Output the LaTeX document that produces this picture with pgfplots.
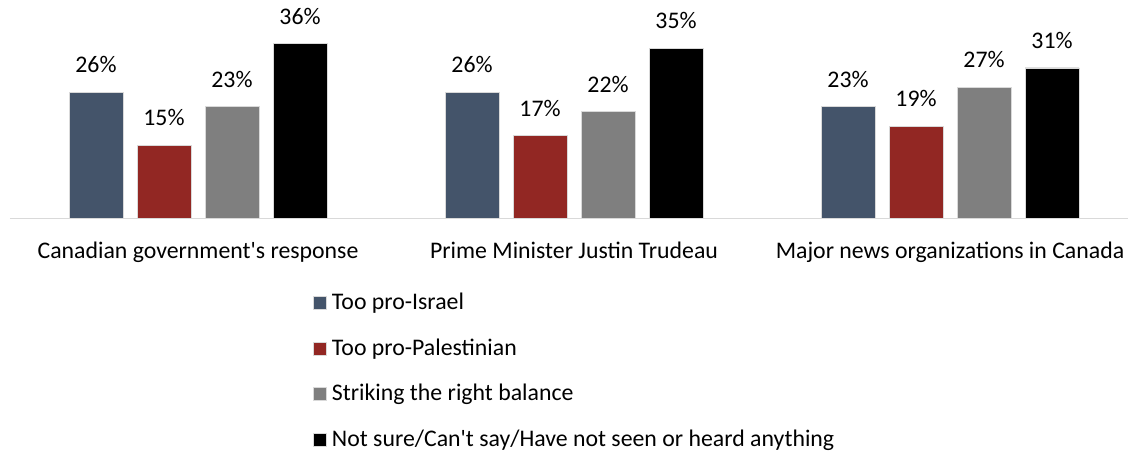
\documentclass[border=0pt]{standalone}
\usepackage{pgfplots}
\pgfplotsset{compat=1.18}
\usepackage{fontspec}
\setmainfont{Carlito}
\definecolor{cblue}{HTML}{44546A}
\definecolor{cred}{HTML}{922723}
\definecolor{cgray}{HTML}{7F7F7F}
\definecolor{cblack}{HTML}{000000}
\definecolor{cedge}{HTML}{D9D9D9}
\newcommand{\fs}{\fontsize{23.8pt}{28pt}\selectfont}
\begin{document}
\fs
\begin{tikzpicture}
\begin{axis}[
  name=ax,
  x=376pt, y=4.85pt,
  xmin=-0.5, xmax=2.4734,
  ymin=0, ymax=45,
  ybar=14pt, bar width=54pt,
  axis y line=none,
  axis x line*=bottom,
  x axis line style={draw=cedge, line width=1.2pt, -},
  xtick=data,
  xticklabels={Canadian government\textquotesingle s response, Prime Minister Justin Trudeau, Major news organizations in Canada},
  major tick length=0pt,
  xticklabel style={font=\fs, yshift=-16pt},
  nodes near coords={\pgfmathprintnumber{\pgfplotspointmeta}\%},
  nodes near coords style={font=\fs, yshift=11pt},
  /pgf/number format/assume math mode=true,
  clip=false,
  legend style={at={(0.2710,-0.333)}, anchor=north west, draw=none, fill=none,
    font=\fs, row sep=21.5pt, inner sep=0pt,
    /tikz/every odd column/.append style={column sep=3pt}},
  legend cell align=left,
  legend image code/.code={\fill[#1] (0pt,-6.5pt) rectangle (13pt,6.5pt);},
]
\addplot[fill=cblue, draw=cedge, line width=0.8pt] coordinates {(0,26) (1,26) (2,23)};
\addplot[fill=cred, draw=cedge, line width=0.8pt] coordinates {(0,15) (1,17) (2,19)};
\addplot[fill=cgray, draw=cedge, line width=0.8pt] coordinates {(0,23) (1,22) (2,27)};
\addplot[fill=cblack, draw=cedge, line width=0.8pt] coordinates {(0,36) (1,35) (2,31)};
\legend{Too pro-Israel, Too pro-Palestinian, Striking the right balance, Not sure/Can\textquotesingle t say/Have not seen or heard anything}
\end{axis}
\pgfresetboundingbox
\path ([xshift=-10pt,yshift=-234pt]ax.south west) rectangle (ax.north east);
\end{tikzpicture}
\end{document}
